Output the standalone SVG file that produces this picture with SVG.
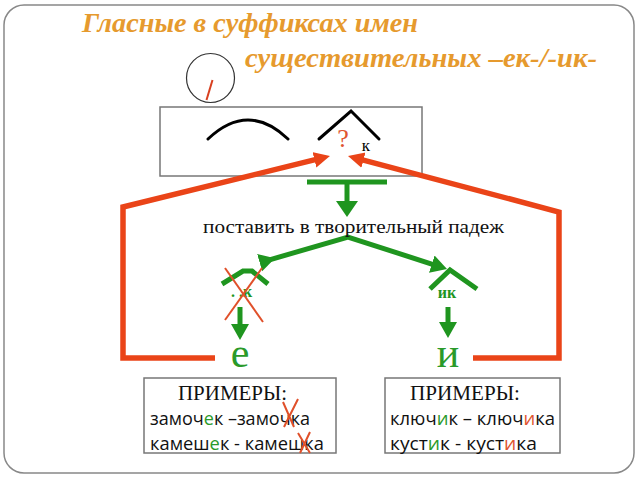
<svg xmlns="http://www.w3.org/2000/svg" width="640" height="480" viewBox="0 0 640 480">
<style>
.title{font-family:"Liberation Serif",serif;font-style:italic;font-weight:bold;font-size:28px;fill:#E69A2E}
.red{fill:none;stroke:#EA4418;stroke-width:5.5}
.grn{fill:none;stroke:#1F951F;stroke-width:5}
.blk{fill:none;stroke:#000;stroke-width:3;stroke-linecap:round}
.box{fill:#fff;stroke:#777;stroke-width:1.5}
.serif{font-family:"Liberation Serif",serif}
.sans{font-family:"Open Sans","Noto Sans",sans-serif;font-size:18px;fill:#111}
.gt{fill:#2A9A2A}
.rt{fill:#E05530}
.xr{stroke:#E0502A;stroke-width:2;fill:none}
</style>
<defs>
<marker id="ar" markerUnits="userSpaceOnUse" markerWidth="20" markerHeight="20" refX="4" refY="8" orient="auto"><path d="M0,0 L16,8 L0,16 z" fill="#EA4418"/></marker>
<marker id="ag" markerUnits="userSpaceOnUse" markerWidth="20" markerHeight="20" refX="4" refY="9" orient="auto"><path d="M0,0 L16,9 L0,18 z" fill="#1F951F"/></marker>
<marker id="agw" markerUnits="userSpaceOnUse" markerWidth="20" markerHeight="24" refX="4" refY="11" orient="auto"><path d="M0,0 L16,11 L0,22 z" fill="#1F951F"/></marker>
</defs>
<rect x="4" y="5" width="630" height="468" rx="20" ry="20" fill="#fff" stroke="#888" stroke-width="1.5"/>
<g id="title">
<text class="title" x="82" y="32" textLength="336" lengthAdjust="spacingAndGlyphs">Гласные в суффиксах имен</text>
<text class="title" x="245" y="67" textLength="352" lengthAdjust="spacingAndGlyphs">существительных –ек-/-ик-</text>
</g>
<g id="stress">
<ellipse cx="210.5" cy="78" rx="24" ry="24.5" fill="none" stroke="#333" stroke-width="1.2"/>
<line x1="206.5" y1="100" x2="212.5" y2="80" stroke="#D84020" stroke-width="2"/>
</g>
<g id="word">
<rect class="box" x="160" y="107" width="262" height="69"/>
<path class="blk" d="M208,139 Q248,101 288,139"/>
<polyline class="blk" points="319,139 351,111 379,139" stroke-linecap="butt"/>
<text class="serif" x="343" y="147" font-size="26" fill="#E05530" text-anchor="middle">?</text>
<text class="serif" x="366" y="151" font-size="17" fill="#000" text-anchor="middle">к</text>
</g>
<g id="connectors">
<polyline class="red" points="215,358 123,358 123,207 318.3,158.9" marker-end="url(#ar)"/>
<polyline class="red" points="473,358 559,358 559,212 359.6,159.1" marker-end="url(#ar)"/>
<line class="grn" x1="307" y1="182" x2="387" y2="182"/>
<line class="grn" x1="347" y1="182" x2="347" y2="205" marker-end="url(#agw)"/>
<polyline class="grn" points="263.5,261.6 348,237 435.6,265.3" marker-start="url(#ag)" marker-end="url(#ag)" stroke-linejoin="miter"/>
<line class="grn" x1="240" y1="307" x2="240" y2="328" marker-end="url(#ag)"/>
<line class="grn" x1="448" y1="307" x2="448" y2="326" marker-end="url(#ag)"/>
</g>
<g id="instruction">
<text class="serif" x="203" y="233" font-size="19" fill="#111" textLength="301" lengthAdjust="spacingAndGlyphs">поставить в творительный падеж</text>
</g>
<g id="ek">
<polyline class="grn" points="222,284 243,271 252,271 268,284"/>
<text class="serif" x="231" y="297" font-size="16" font-weight="bold" fill="#1F951F">. .к</text>
<line class="xr" x1="225" y1="268" x2="263" y2="322"/>
<line class="xr" x1="262" y1="268" x2="225" y2="320"/>
<text class="serif" x="240" y="367" font-size="42" fill="#2A9A2A" text-anchor="middle">е</text>
</g>
<g id="ik">
<polyline class="grn" points="430,289 450,270 477,289"/>
<text class="serif" x="447" y="298" font-size="16" font-weight="bold" fill="#1F951F" text-anchor="middle">ик</text>
<text class="serif" x="448" y="367" font-size="42" fill="#2A9A2A" text-anchor="middle">и</text>
</g>
<g id="examples-e">
<rect class="box" x="144" y="378" width="192" height="75"/>
<text class="serif" x="178" y="400" font-size="20" fill="#111" textLength="109" lengthAdjust="spacingAndGlyphs">ПРИМЕРЫ:</text>
<text class="sans" x="150" y="425" textLength="160" lengthAdjust="spacingAndGlyphs">замоч<tspan class="gt">е</tspan>к –замочка</text>
<text class="sans" x="150" y="450" textLength="174" lengthAdjust="spacingAndGlyphs">камеш<tspan class="gt">е</tspan>к - камешка</text>
<path class="xr" d="M283,402 L294,427 M298,399 L284,427 M298,433 L310,453 M310,432 L300,453"/>
</g>
<g id="examples-i">
<rect class="box" x="385" y="378" width="175" height="75"/>
<text class="serif" x="410" y="400" font-size="20" fill="#111" textLength="110" lengthAdjust="spacingAndGlyphs">ПРИМЕРЫ:</text>
<text class="sans" x="390" y="425" textLength="165" lengthAdjust="spacingAndGlyphs">ключ<tspan class="gt">и</tspan>к – ключ<tspan class="rt">и</tspan>ка</text>
<text class="sans" x="390" y="450" textLength="147" lengthAdjust="spacingAndGlyphs">куст<tspan class="gt">и</tspan>к - куст<tspan class="rt">и</tspan>ка</text>
</g>
</svg>
